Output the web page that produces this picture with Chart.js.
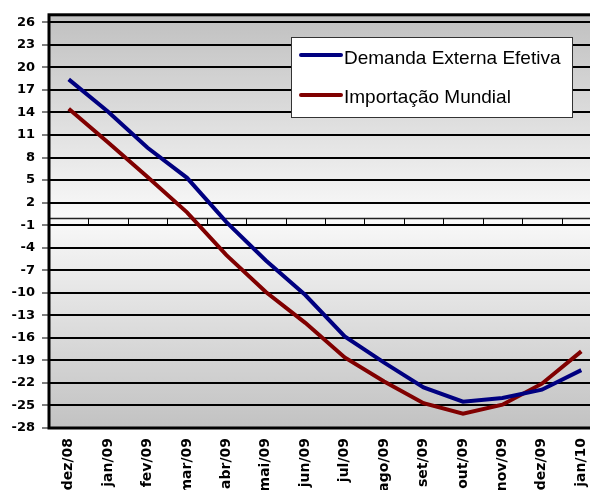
<!DOCTYPE html>
<html>
<head>
<meta charset="utf-8">
<script src="https://cdn.jsdelivr.net/npm/chart.js@4"></script>
<style>
  html, body { margin: 0; padding: 0; background: #fff; overflow: hidden; }
  #wrap { width: 590px; height: 490px; overflow: hidden; }
</style>
</head>
<body>
<div id="wrap"><canvas id="myChart" width="610" height="490"></canvas></div>
<script>
const categories = ['dez/08', 'jan/09', 'fev/09', 'mar/09', 'abr/09', 'mai/09', 'jun/09',
  'jul/09', 'ago/09', 'set/09', 'out/09', 'nov/09', 'dez/09', 'jan/10'];
const demandaExterna = [18.4, 14.1, 9.3, 5.3, -0.6, -5.7, -10.3, -15.8, -19.3, -22.6, -24.5, -24.0, -22.9, -20.3];
const importacaoMundial = [14.5, 10.0, 5.4, 0.7, -5.0, -9.9, -14.0, -18.6, -21.8, -24.7, -26.1, -24.9, -22.1, -17.8];
const yTicks = [26, 23, 20, 17, 14, 11, 8, 5, 2, -1, -4, -7, -10, -13, -16, -19, -22, -25, -28];

// grey -> white -> grey fill behind the plot
const bgPlugin = {
  id: 'bg',
  beforeDraw(chart) {
    const { ctx, chartArea: a } = chart;
    const g = ctx.createLinearGradient(0, a.top, 0, a.bottom);
    g.addColorStop(0, '#c0c0c0');
    g.addColorStop(0.49, '#f9f9f9');
    g.addColorStop(1, '#c2c2c2');
    ctx.save();
    ctx.fillStyle = g;
    ctx.fillRect(a.left, a.top, a.right - a.left, a.bottom - a.top);
    ctx.restore();
  }
};

// zero axis with category tick marks, and the heavy frame
const framePlugin = {
  id: 'frame',
  beforeDatasetsDraw(chart) {
    const { ctx, chartArea: a, scales } = chart;
    const y0 = Math.round(scales.y.getPixelForValue(0)) + 0.5;
    const half = (scales.x.getPixelForValue(1) - scales.x.getPixelForValue(0)) / 2;
    ctx.save();
    ctx.strokeStyle = '#222';
    ctx.lineWidth = 1.5;
    ctx.beginPath();
    ctx.moveTo(a.left, y0);
    ctx.lineTo(a.right, y0);
    ctx.stroke();
    ctx.lineWidth = 1;
    ctx.strokeStyle = '#000';
    ctx.beginPath();
    for (let i = 0; i < categories.length - 1; i++) {
      const x = Math.round(scales.x.getPixelForValue(i) + half) + 0.5;
      ctx.moveTo(x, y0);
      ctx.lineTo(x, y0 + 6);
    }
    ctx.stroke();
    ctx.lineWidth = 3;
    ctx.strokeStyle = '#000';
    ctx.strokeRect(a.left, a.top, a.right - a.left, a.bottom - a.top);
    ctx.restore();
  }
};

// boxed legend sitting inside the plot
const legendPlugin = {
  id: 'boxLegend',
  afterDatasetsDraw(chart) {
    const { ctx } = chart;
    ctx.save();
    ctx.fillStyle = '#fff';
    ctx.fillRect(291, 37, 281, 80);
    ctx.strokeStyle = '#333';
    ctx.lineWidth = 1;
    ctx.strokeRect(291.5, 37.5, 281, 80);
    ctx.font = '19px "Liberation Sans", Arial, sans-serif';
    ctx.textBaseline = 'alphabetic';
    chart.data.datasets.forEach((ds, i) => {
      const yLine = 55 + i * 40;
      ctx.strokeStyle = ds.borderColor;
      ctx.lineWidth = 4;
      ctx.lineCap = 'round';
      ctx.beginPath();
      ctx.moveTo(301, yLine);
      ctx.lineTo(341, yLine);
      ctx.stroke();
      ctx.fillStyle = '#000';
      ctx.fillText(ds.label, 344, 64 + i * 39);
    });
    ctx.restore();
  }
};

const ctx = document.getElementById('myChart').getContext('2d');
new Chart(ctx, {
  type: 'line',
  data: {
    labels: categories,
    datasets: [
      {
        label: 'Demanda Externa Efetiva',
        data: demandaExterna,
        borderColor: '#000080',
        backgroundColor: '#000080',
        borderWidth: 4,
        pointRadius: 0,
        tension: 0,
        fill: false
      },
      {
        label: 'Importação Mundial',
        data: importacaoMundial,
        borderColor: '#800000',
        backgroundColor: '#800000',
        borderWidth: 4,
        pointRadius: 0,
        tension: 0,
        fill: false
      }
    ]
  },
  options: {
    responsive: false,
    animation: false,
    layout: { padding: { top: 12, right: 9, left: 0, bottom: 0 } },
    plugins: {
      legend: { display: false },
      tooltip: { enabled: false }
    },
    scales: {
      x: {
        offset: true,
        grid: { display: false, drawTicks: false },
        border: { display: false },
        ticks: {
          color: '#000',
          font: { family: '"DejaVu Sans", sans-serif', size: 14, weight: 'bold' },
          minRotation: 90,
          maxRotation: 90,
          padding: 10,
          autoSkip: false
        },
        afterFit(scale) { scale.height = 62; }
      },
      y: {
        min: -28,
        max: 27,
        afterBuildTicks(scale) { scale.ticks = yTicks.map(v => ({ value: v })); },
        afterFit(scale) { scale.width = 49; },
        grid: { color: '#000', lineWidth: 2, tickLength: 7, tickWidth: 1, tickColor: '#000' },
        border: { display: false },
        ticks: {
          color: '#000',
          padding: 7,
          font: { family: '"DejaVu Sans", sans-serif', size: 13, weight: 'bold' },
          callback: v => String(v)
        }
      }
    }
  },
  plugins: [bgPlugin, framePlugin, legendPlugin]
});
</script>
</body>
</html>
